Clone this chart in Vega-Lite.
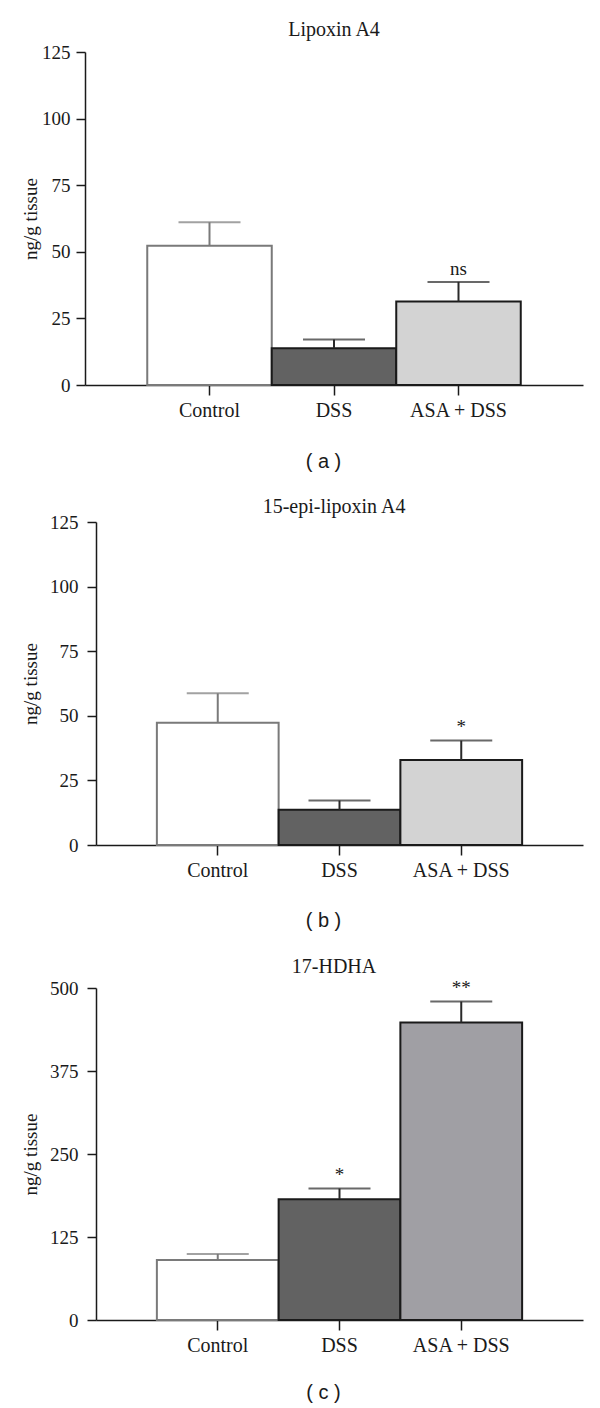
{
  "$schema": "https://vega.github.io/schema/vega-lite/v6.json",
  "background": "white",
  "padding": {"left": 21, "top": 20, "right": 10, "bottom": 5},
  "spacing": 26,
  "config": {
    "view": {"stroke": null},
    "font": "Liberation Serif",
    "title": {"font": "Liberation Serif", "fontSize": 20, "fontWeight": "normal", "color": "#1a1a1a"},
    "axis": {
      "domainColor": "#1a1a1a", "domainWidth": 1.5,
      "tickColor": "#1a1a1a", "tickWidth": 1.5,
      "labelFont": "Liberation Serif", "labelColor": "#1a1a1a",
      "titleFont": "Liberation Serif", "titleFontWeight": "normal", "titleColor": "#1a1a1a",
      "grid": false
    },
    "axisX": {"tickSize": 10, "labelPadding": 5, "labelAngle": 0, "labelFontSize": 20, "titleFont": "Liberation Sans", "titleFontSize": 20, "titleX": 238},
    "axisY": {"tickSize": 9, "labelFontSize": 19, "titleFontSize": 19}
  },
  "resolve": {"scale": {"fill": "independent", "stroke": "independent", "color": "independent", "x": "independent", "y": "independent"}},
  "vconcat": [
    {
      "width": 498, "height": 333,
      "title": {"text": "Lipoxin A4", "offset": 3},
      "data": {"values": [
        {"group": "Control", "mean": 52.3, "upper": 61.1, "sig": ""},
        {"group": "DSS", "mean": 13.8, "upper": 17.1, "sig": ""},
        {"group": "ASA + DSS", "mean": 31.3, "upper": 38.7, "sig": "ns"}
      ]},
      "encoding": {
        "x": {"field": "group", "type": "nominal", "sort": ["Control", "DSS", "ASA + DSS"],
              "scale": {"paddingInner": 0, "paddingOuter": 0.5},
              "axis": {"title": "( a )", "titlePadding": 31}}
      },
      "layer": [
        {"mark": {"type": "bar", "strokeWidth": 2},
         "encoding": {
           "y": {"field": "mean", "type": "quantitative", "scale": {"domain": [0, 125], "nice": false},
                 "axis": {"values": [0, 25, 50, 75, 100, 125], "title": "ng/g tissue", "labelPadding": 6, "titlePadding": 1}},
           "fill": {"field": "group", "type": "nominal", "legend": null,
                    "scale": {"domain": ["Control", "DSS", "ASA + DSS"], "range": ["#ffffff", "#626262", "#d3d3d3"]}},
           "stroke": {"field": "group", "type": "nominal", "legend": null,
                    "scale": {"domain": ["Control", "DSS", "ASA + DSS"], "range": ["#7a7a7a", "#1a1a1a", "#1a1a1a"]}}
         }},
        {"mark": {"type": "rule", "strokeWidth": 2},
         "encoding": {"y": {"field": "mean", "type": "quantitative"}, "y2": {"field": "upper"},
           "color": {"field": "group", "type": "nominal", "legend": null,
                     "scale": {"domain": ["Control", "DSS", "ASA + DSS"], "range": ["#7a7a7a", "#2a2a2a", "#2a2a2a"]}}}},
        {"mark": {"type": "tick", "thickness": 2, "size": 62},
         "encoding": {"y": {"field": "upper", "type": "quantitative"},
           "color": {"field": "group", "type": "nominal", "legend": null,
                     "scale": {"domain": ["Control", "DSS", "ASA + DSS"], "range": ["#7a7a7a", "#2a2a2a", "#2a2a2a"]}}}},
        {"mark": {"type": "text", "fontSize": 19, "baseline": "alphabetic", "dy": -7, "color": "#1a1a1a"},
         "encoding": {"y": {"field": "upper", "type": "quantitative"}, "text": {"field": "sig"}}}
      ]
    },
    {
      "width": 498, "height": 323,
      "title": {"text": "15-epi-lipoxin A4", "offset": -4},
      "data": {"values": [
        {"group": "Control", "mean": 47.3, "upper": 58.7, "sig": ""},
        {"group": "DSS", "mean": 13.6, "upper": 17.2, "sig": ""},
        {"group": "ASA + DSS", "mean": 32.9, "upper": 40.4, "sig": "*"}
      ]},
      "encoding": {
        "x": {"field": "group", "type": "nominal", "sort": ["Control", "DSS", "ASA + DSS"],
              "scale": {"paddingInner": 0, "paddingOuter": 0.5, "range": [11, 498]},
              "axis": {"title": "( b )", "titlePadding": 30}}
      },
      "layer": [
        {"mark": {"type": "bar", "strokeWidth": 2},
         "encoding": {
           "y": {"field": "mean", "type": "quantitative", "scale": {"domain": [0, 125], "nice": false},
                 "axis": {"values": [0, 25, 50, 75, 100, 125], "title": "ng/g tissue", "offset": -11, "labelPadding": 9, "titlePadding": 9}},
           "fill": {"field": "group", "type": "nominal", "legend": null,
                    "scale": {"domain": ["Control", "DSS", "ASA + DSS"], "range": ["#ffffff", "#626262", "#d3d3d3"]}},
           "stroke": {"field": "group", "type": "nominal", "legend": null,
                    "scale": {"domain": ["Control", "DSS", "ASA + DSS"], "range": ["#7a7a7a", "#1a1a1a", "#1a1a1a"]}}
         }},
        {"mark": {"type": "rule", "strokeWidth": 2},
         "encoding": {"y": {"field": "mean", "type": "quantitative"}, "y2": {"field": "upper"},
           "color": {"field": "group", "type": "nominal", "legend": null,
                     "scale": {"domain": ["Control", "DSS", "ASA + DSS"], "range": ["#7a7a7a", "#2a2a2a", "#2a2a2a"]}}}},
        {"mark": {"type": "tick", "thickness": 2, "size": 62},
         "encoding": {"y": {"field": "upper", "type": "quantitative"},
           "color": {"field": "group", "type": "nominal", "legend": null,
                     "scale": {"domain": ["Control", "DSS", "ASA + DSS"], "range": ["#7a7a7a", "#2a2a2a", "#2a2a2a"]}}}},
        {"mark": {"type": "text", "fontSize": 19, "baseline": "alphabetic", "dy": -8, "color": "#1a1a1a"},
         "encoding": {"y": {"field": "upper", "type": "quantitative"}, "text": {"field": "sig"}}}
      ]
    },
    {
      "width": 498, "height": 332,
      "title": {"text": "17-HDHA", "offset": 2},
      "data": {"values": [
        {"group": "Control", "mean": 90.5, "upper": 99.5, "sig": ""},
        {"group": "DSS", "mean": 182, "upper": 198, "sig": "*"},
        {"group": "ASA + DSS", "mean": 448, "upper": 479.6, "sig": "**"}
      ]},
      "encoding": {
        "x": {"field": "group", "type": "nominal", "sort": ["Control", "DSS", "ASA + DSS"],
              "scale": {"paddingInner": 0, "paddingOuter": 0.5, "range": [11, 498]},
              "axis": {"title": "( c )", "titlePadding": 27}}
      },
      "layer": [
        {"mark": {"type": "bar", "strokeWidth": 2},
         "encoding": {
           "y": {"field": "mean", "type": "quantitative", "scale": {"domain": [0, 500], "nice": false},
                 "axis": {"values": [0, 125, 250, 375, 500], "title": "ng/g tissue", "offset": -11, "labelPadding": 9, "titlePadding": 9}},
           "fill": {"field": "group", "type": "nominal", "legend": null,
                    "scale": {"domain": ["Control", "DSS", "ASA + DSS"], "range": ["#ffffff", "#626262", "#a09fa4"]}},
           "stroke": {"field": "group", "type": "nominal", "legend": null,
                    "scale": {"domain": ["Control", "DSS", "ASA + DSS"], "range": ["#7a7a7a", "#1a1a1a", "#1a1a1a"]}}
         }},
        {"mark": {"type": "rule", "strokeWidth": 2},
         "encoding": {"y": {"field": "mean", "type": "quantitative"}, "y2": {"field": "upper"},
           "color": {"field": "group", "type": "nominal", "legend": null,
                     "scale": {"domain": ["Control", "DSS", "ASA + DSS"], "range": ["#7a7a7a", "#2a2a2a", "#2a2a2a"]}}}},
        {"mark": {"type": "tick", "thickness": 2, "size": 62},
         "encoding": {"y": {"field": "upper", "type": "quantitative"},
           "color": {"field": "group", "type": "nominal", "legend": null,
                     "scale": {"domain": ["Control", "DSS", "ASA + DSS"], "range": ["#7a7a7a", "#2a2a2a", "#2a2a2a"]}}}},
        {"mark": {"type": "text", "fontSize": 19, "baseline": "alphabetic", "dy": -8, "color": "#1a1a1a"},
         "encoding": {"y": {"field": "upper", "type": "quantitative"}, "text": {"field": "sig"}}}
      ]
    }
  ]
}
